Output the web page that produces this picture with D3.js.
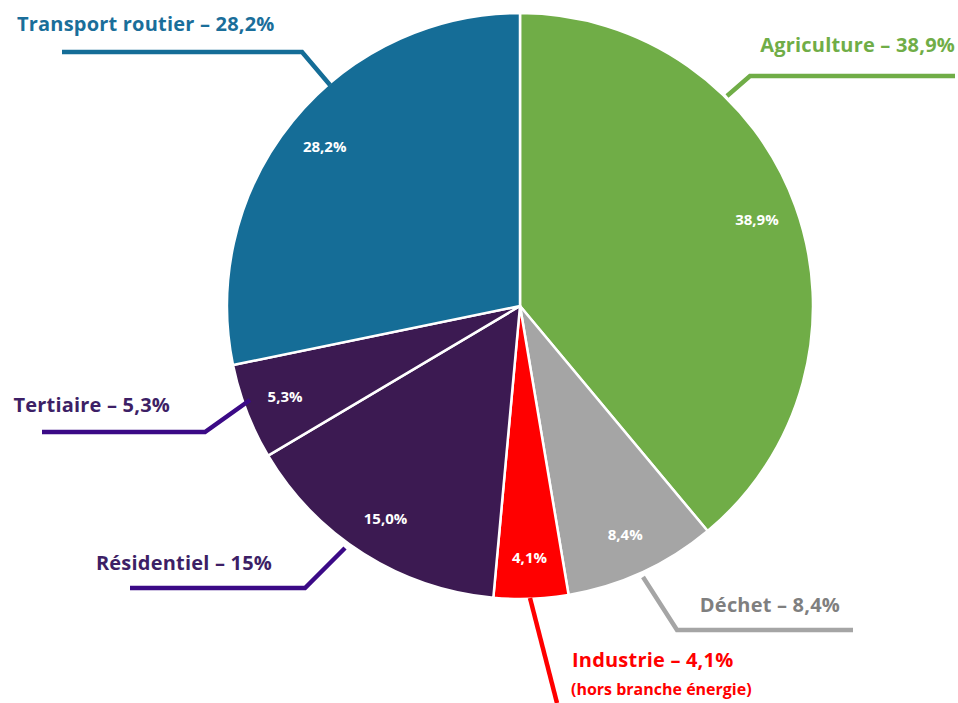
<!DOCTYPE html>
<html>
<head>
<meta charset="utf-8">
<script src="https://cdn.jsdelivr.net/npm/d3@7"></script>
<style>
  body { margin: 0; background: #fff; }
  svg { display: block; }
</style>
</head>
<body>
<svg id="chart" width="958" height="703"></svg>
<script>
const w = 958, h = 703;

// data, clockwise from 12 o'clock
const sectors = ["Agriculture", "Déchet", "Industrie", "Résidentiel", "Tertiaire", "Transport routier"];
const shares = [38.9, 8.4, 4.1, 15.0, 5.3, 28.2];
const innerLabels = ["38,9%", "8,4%", "4,1%", "15,0%", "5,3%", "28,2%"];
const outerLabels = ["Agriculture – 38,9%", "Déchet – 8,4%", "Industrie – 4,1%", "Résidentiel – 15%", "Tertiaire – 5,3%", "Transport routier – 28,2%"];

const fills = ["#70ad47", "#a5a5a5", "#ff0000", "#3c1a52", "#3c1a52", "#156d97"];
const textCols = ["#70ad47", "#7f7f7f", "#ff0000", "#3d1f66", "#3d1f66", "#1a6e9a"];
const lineCols = ["#70ad47", "#a5a5a5", "#ff0000", "#3b0a86", "#3b0a86", "#156d97"];

const cx = 520, cy = 306, R = 293;
const font = "'Open Sans', Lato, sans-serif";

// label placement + leader polylines (layout only)
const layout = [
  { x: 955, y: 52, anchor: "end", pts: [[727, 96], [750, 76], [955, 76]] },
  { x: 840, y: 612, anchor: "end", pts: [[643, 577], [677, 630], [853, 630]] },
  { x: 572, y: 667, anchor: "start", pts: [[530, 598], [557, 703]], sub: "(hors branche énergie)" },
  { x: 272, y: 570, anchor: "end", pts: [[345, 548], [305, 588], [130, 588]] },
  { x: 170, y: 412, anchor: "end", pts: [[250, 400], [205, 432], [42, 432]] },
  { x: 17, y: 31, anchor: "start", pts: [[330, 85], [302, 52], [62, 52]] }
];

const svg = d3.select("#chart");
const data = sectors.map((s, i) => ({ s, v: shares[i], i }));

const pie = d3.pie().value(d => d.v).sort(null);
const arcs = pie(data);
const arc = d3.arc().innerRadius(0).outerRadius(R);
const labelArc = d3.arc().innerRadius(R * 0.86).outerRadius(R * 0.86);

const g = svg.append("g").attr("transform", `translate(${cx},${cy})`);

g.selectAll("path.slice")
  .data(arcs)
  .join("path")
  .attr("class", "slice")
  .attr("d", arc)
  .attr("fill", d => fills[d.data.i])
  .attr("stroke", "#fff")
  .attr("stroke-width", 2.5)
  .attr("stroke-linejoin", "round");

g.selectAll("text.pct")
  .data(arcs)
  .join("text")
  .attr("class", "pct")
  .attr("transform", d => `translate(${labelArc.centroid(d)})`)
  .attr("text-anchor", "middle")
  .attr("dy", "0.35em")
  .attr("fill", "#fff")
  .style("font-family", font)
  .style("font-weight", "bold")
  .style("font-size", "15px")
  .text(d => innerLabels[d.data.i]);

// leader lines
const line = d3.line();
svg.selectAll("path.leader")
  .data(layout)
  .join("path")
  .attr("class", "leader")
  .attr("d", d => line(d.pts))
  .attr("fill", "none")
  .attr("stroke", (d, i) => lineCols[i])
  .attr("stroke-width", 4.5)
  .attr("stroke-linejoin", "miter");

// outer labels
svg.selectAll("text.lab")
  .data(layout)
  .join("text")
  .attr("class", "lab")
  .attr("x", d => d.x)
  .attr("y", d => d.y)
  .attr("text-anchor", d => d.anchor)
  .attr("fill", (d, i) => textCols[i])
  .style("font-family", font)
  .style("font-weight", "bold")
  .style("font-size", "20px")
  .style("letter-spacing", "0.2px")
  .text((d, i) => outerLabels[i]);

svg.selectAll("text.sub")
  .data(layout.filter(d => d.sub))
  .join("text")
  .attr("class", "sub")
  .attr("x", d => d.x - 1)
  .attr("y", d => d.y + 28)
  .attr("fill", "#ff0000")
  .style("font-family", font)
  .style("font-weight", "bold")
  .style("font-size", "16px")
  .text(d => d.sub);
</script>
</body>
</html>
